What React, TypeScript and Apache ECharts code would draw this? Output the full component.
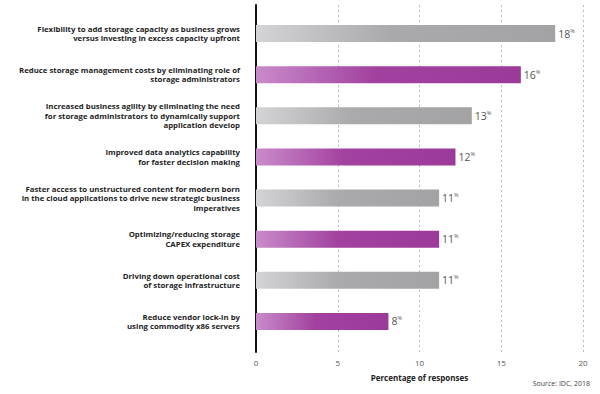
import React, { useEffect, useRef } from "react";
import * as echarts from "echarts";

const categories = [
  "Flexibility to add storage capacity as business grows\nversus investing in excess capacity upfront",
  "Reduce storage management costs by eliminating role of\nstorage administrators",
  "Increased business agility by eliminating the need\nfor storage administrators to dynamically support\napplication develop",
  "Improved data analytics capability\nfor faster decision making",
  "Faster access to unstructured content for modern born\nin the cloud applications to drive new strategic business\nimperatives",
  "Optimizing/reducing storage\nCAPEX expenditure",
  "Driving down operational cost\nof storage infrastructure",
  "Reduce vendor lock-in by\nusing commodity x86 servers",
];
const values = [18.3, 16.2, 13.2, 12.2, 11.2, 11.2, 11.2, 8.1];
const labelValues = [18, 16, 13, 12, 11, 11, 11, 8];
const xTicks = [0, 5, 10, 15, 20];
const xAxisName = "Percentage of responses";
const sourceText = "Source: IDC, 2018";

const FONT = "'Open Sans', 'Noto Sans', sans-serif";

const grayGrad = () =>
  new echarts.graphic.LinearGradient(0, 0, 1, 0, [
    { offset: 0, color: "#d4d4d6" },
    { offset: 0.45, color: "#aaaaac" },
    { offset: 1, color: "#a3a3a5" },
  ]);
const purpleGrad = () =>
  new echarts.graphic.LinearGradient(0, 0, 1, 0, [
    { offset: 0, color: "#c98bca" },
    { offset: 0.45, color: "#a2419f" },
    { offset: 1, color: "#9c3a99" },
  ]);

export default function App() {
  const ref = useRef<HTMLDivElement>(null);
  useEffect(() => {
    if (!ref.current) return;
    const chart = echarts.init(ref.current, undefined, { renderer: "svg" });
    chart.setOption({
      animation: false,
      backgroundColor: "#ffffff",
      grid: [
        { left: 256, right: 17, top: 13, bottom: 52 },
        { left: 256, right: 17, top: 5, bottom: 42 },
      ],
      xAxis: [
        {
          gridIndex: 0,
          type: "value",
          min: xTicks[0],
          max: xTicks[xTicks.length - 1],
          interval: 5,
          axisLine: { show: false },
          axisTick: { show: false },
          axisLabel: { show: false },
          splitLine: { show: false },
        },
        {
          gridIndex: 1,
          type: "value",
          min: xTicks[0],
          max: xTicks[xTicks.length - 1],
          interval: 5,
          axisLine: { show: false },
          axisTick: { show: false },
          axisLabel: { color: "#555", fontSize: 8, fontFamily: FONT, margin: 6 },
          splitLine: { show: true, lineStyle: { color: "#bdbdbd", type: [2, 3], width: 1 } },
          name: xAxisName,
          nameLocation: "middle",
          nameGap: 21,
          nameTextStyle: { color: "#222", fontSize: 8, fontWeight: "bold", fontFamily: FONT },
        },
      ],
      yAxis: [
        {
          gridIndex: 0,
          type: "category",
          inverse: true,
          data: categories,
          axisLine: { show: false },
          axisTick: { show: false },
          splitLine: { show: false },
          axisLabel: {
            color: "#1e1e1e",
            fontSize: 7.8,
            fontWeight: "bold",
            fontFamily: FONT,
            lineHeight: 9.5,
            align: "right",
            margin: 16,
          },
        },
        {
          gridIndex: 1,
          type: "value",
          min: 0,
          max: 1,
          axisLine: { show: true, lineStyle: { color: "#111", width: 2 } },
          axisTick: { show: false },
          axisLabel: { show: false },
          splitLine: { show: false },
        },
      ],
      series: [
        {
          type: "bar",
          xAxisIndex: 0,
          yAxisIndex: 0,
          barWidth: 17,
          data: values.map((v, i) => ({
            value: v,
            itemStyle: { color: i % 2 === 0 ? grayGrad() : purpleGrad() },
          })),
          label: {
            show: true,
            position: "right",
            distance: 3,
            formatter: (p: any) => `{v|${labelValues[p.dataIndex]}}{p|%}`,
            rich: {
              v: { color: "#555", fontSize: 10.5, fontFamily: FONT, lineHeight: 12 },
              p: { color: "#555", fontSize: 5.5, fontFamily: FONT, verticalAlign: "top", lineHeight: 10 },
            },
          },
        },
      ],
      graphic: [
        {
          type: "text",
          right: 10,
          top: 380,
          style: { text: sourceText, fill: "#444", fontSize: 7, fontFamily: FONT },
        },
      ],
    });
    return () => chart.dispose();
  }, []);
  return <div ref={ref} style={{ width: 600, height: 394, position: "absolute", left: 0, top: 0 }} />;
}
